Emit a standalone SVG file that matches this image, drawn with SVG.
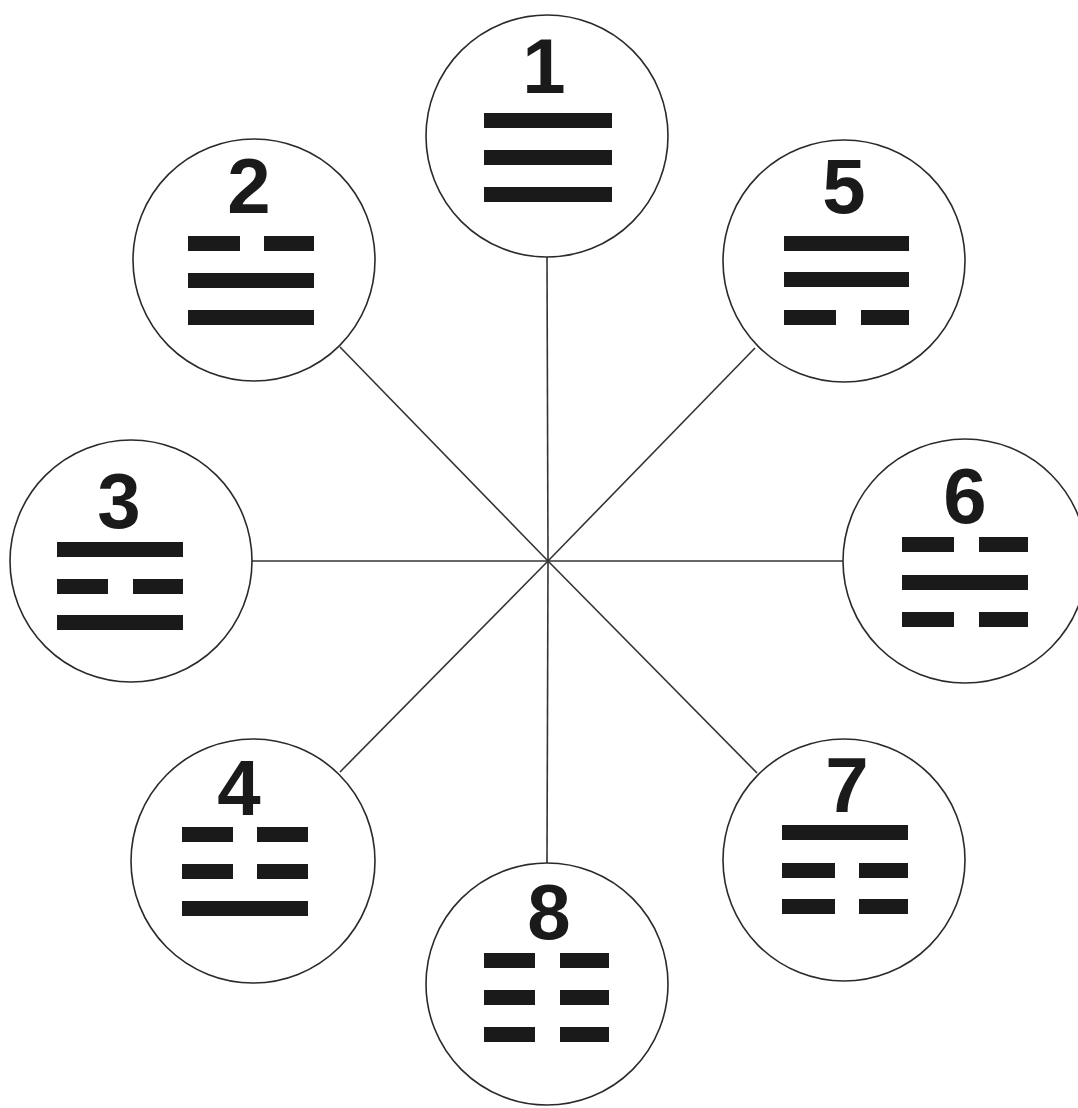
<svg xmlns="http://www.w3.org/2000/svg" width="1078" height="1108" viewBox="0 0 1078 1108">
<style>
.bg{fill:#ffffff}
.node circle{fill:#ffffff;stroke:#2a2a2a;stroke-width:1.6}
.num{font-family:"Liberation Sans",Arial,sans-serif;font-weight:bold;font-size:78px;fill:#1a1a1a;text-anchor:middle}
.bar{fill:#1a1a1a}
.conn line{stroke:#333333;stroke-width:1.6}
</style>
<rect class="bg" x="0" y="0" width="1078" height="1108"/>
<g id="connectors" class="conn">
<line x1="548" y1="561" x2="547" y2="257"/>
<line x1="548" y1="561" x2="340" y2="347"/>
<line x1="548" y1="561" x2="755" y2="348"/>
<line x1="548" y1="561" x2="252" y2="561"/>
<line x1="548" y1="561" x2="843" y2="561"/>
<line x1="548" y1="561" x2="340" y2="772"/>
<line x1="548" y1="561" x2="757" y2="773"/>
<line x1="548" y1="561" x2="547" y2="863"/>
</g>
<g id="node1" class="node">
<circle cx="547" cy="136" r="121"/>
<text class="num" x="544" y="93">1</text>
<rect class="bar" x="484" y="113" width="128" height="15"/>
<rect class="bar" x="484" y="150" width="128" height="15"/>
<rect class="bar" x="484" y="187" width="128" height="15"/>
</g>
<g id="node2" class="node">
<circle cx="254" cy="260" r="121"/>
<text class="num" x="249" y="213">2</text>
<rect class="bar" x="188" y="236" width="52" height="15"/>
<rect class="bar" x="264" y="236" width="50" height="15"/>
<rect class="bar" x="188" y="273" width="126" height="15"/>
<rect class="bar" x="188" y="310" width="126" height="15"/>
</g>
<g id="node3" class="node">
<circle cx="131" cy="561" r="121"/>
<text class="num" x="119" y="528">3</text>
<rect class="bar" x="57" y="542" width="126" height="15"/>
<rect class="bar" x="57" y="579" width="51" height="15"/>
<rect class="bar" x="133" y="579" width="50" height="15"/>
<rect class="bar" x="57" y="615" width="126" height="15"/>
</g>
<g id="node4" class="node">
<circle cx="253" cy="861" r="122"/>
<text class="num" x="239" y="815">4</text>
<rect class="bar" x="182" y="827" width="51" height="15"/>
<rect class="bar" x="257" y="827" width="51" height="15"/>
<rect class="bar" x="182" y="864" width="51" height="15"/>
<rect class="bar" x="257" y="864" width="51" height="15"/>
<rect class="bar" x="182" y="901" width="126" height="15"/>
</g>
<g id="node5" class="node">
<circle cx="844" cy="261" r="121"/>
<text class="num" x="844" y="213">5</text>
<rect class="bar" x="784" y="236" width="125" height="15"/>
<rect class="bar" x="784" y="272" width="125" height="15"/>
<rect class="bar" x="784" y="310" width="52" height="15"/>
<rect class="bar" x="861" y="310" width="48" height="15"/>
</g>
<g id="node6" class="node">
<circle cx="965" cy="561" r="122"/>
<text class="num" x="965" y="523">6</text>
<rect class="bar" x="902" y="537" width="52" height="15"/>
<rect class="bar" x="979" y="537" width="49" height="15"/>
<rect class="bar" x="902" y="575" width="126" height="15"/>
<rect class="bar" x="902" y="612" width="52" height="15"/>
<rect class="bar" x="979" y="612" width="49" height="15"/>
</g>
<g id="node7" class="node">
<circle cx="844" cy="860" r="121"/>
<text class="num" x="847" y="812">7</text>
<rect class="bar" x="782" y="825" width="126" height="15"/>
<rect class="bar" x="782" y="863" width="53" height="15"/>
<rect class="bar" x="859" y="863" width="49" height="15"/>
<rect class="bar" x="782" y="899" width="53" height="15"/>
<rect class="bar" x="859" y="899" width="49" height="15"/>
</g>
<g id="node8" class="node">
<circle cx="547" cy="984" r="121"/>
<text class="num" x="549" y="939">8</text>
<rect class="bar" x="484" y="953" width="51" height="15"/>
<rect class="bar" x="560" y="953" width="49" height="15"/>
<rect class="bar" x="484" y="990" width="51" height="15"/>
<rect class="bar" x="560" y="990" width="49" height="15"/>
<rect class="bar" x="484" y="1027" width="51" height="15"/>
<rect class="bar" x="560" y="1027" width="49" height="15"/>
</g>
</svg>
